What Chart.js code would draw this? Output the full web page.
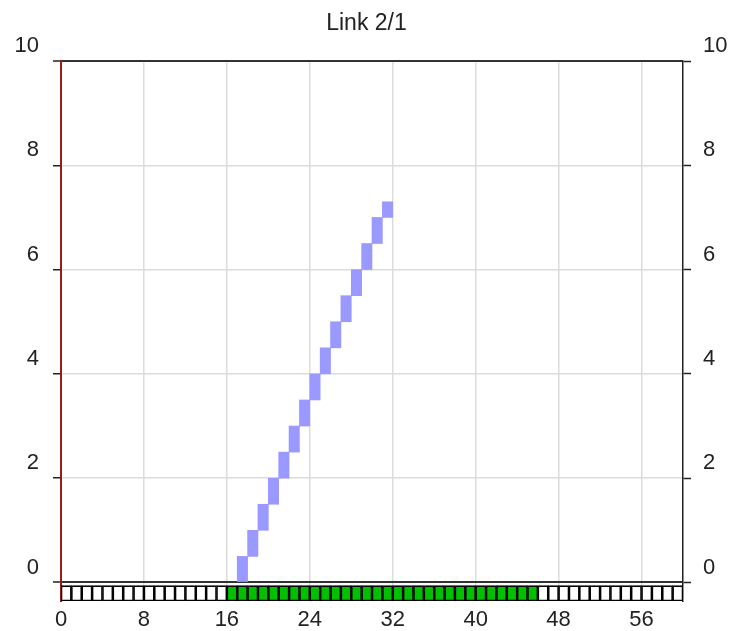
<!DOCTYPE html>
<html>
<head>
<meta charset="utf-8">
<script src="https://cdn.jsdelivr.net/npm/chart.js@4/dist/chart.umd.min.js"></script>
<style>
  body { margin: 0; background: #fff; }
</style>
</head>
<body>
<canvas id="myChart" width="733" height="631"></canvas>
<script>
// rising steps: slot where each one sits and the range it covers
let stepSlots = [17, 18, 19, 20, 21, 22, 23, 24, 25, 26, 27, 28, 29, 30, 31];
let stepFrom  = [0, 0.5, 1, 1.5, 2, 2.5, 3, 3.5, 4, 4.5, 5, 5.5, 6, 6.5, 7];
let stepTo    = [0.5, 1, 1.5, 2, 2.5, 3, 3.5, 4, 4.5, 5, 5.5, 6, 6.5, 7, 7.3];

// slot strip under the axis, 1 = slot in use
let stripActive = [
    0, 0, 0, 0, 0, 0, 0, 0, 0, 0, 0, 0, 0, 0, 0, 0,
    1, 1, 1, 1, 1, 1, 1, 1, 1, 1, 1, 1, 1, 1, 1, 1,
    1, 1, 1, 1, 1, 1, 1, 1, 1, 1, 1, 1, 1, 1,
    0, 0, 0, 0, 0, 0, 0, 0, 0, 0, 0, 0, 0, 0
];

let xTicks = [0, 8, 16, 24, 32, 40, 48, 56];
let yTicks = [0, 2, 4, 6, 8, 10];

const yMin = -0.355;
const stripTop = -0.06;
const font = { family: "'Liberation Sans', Arial, sans-serif", size: 22 };

let useTicks = list => scale => { scale.ticks = list.map(v => ({ value: v })); };
let isEdge = c => c.tick && (c.tick.value === 0 || c.tick.value === 10);

let ctx = document.getElementById('myChart').getContext('2d');
let myChart = new Chart(ctx, {
    type: 'bar',
    data: {
        datasets: [{
            label: 'Link 2/1',
            data: stepSlots.map((s, i) => ({ x: s + 0.5, y: [stepFrom[i], stepTo[i]] })),
            backgroundColor: '#9999ff',
            borderWidth: 0,
            barPercentage: 1,
            categoryPercentage: 1,
            grouped: false
        }, {
            label: 'slots',
            data: stripActive.map((a, i) => ({ x: i + 0.5, y: [yMin, stripTop] })),
            backgroundColor: stripActive.map(a => a ? '#00c000' : '#ffffff'),
            borderColor: '#000',
            borderWidth: 1.6,
            borderSkipped: false,
            barPercentage: 1,
            categoryPercentage: 1,
            grouped: false
        }]
    },
    options: {
        responsive: false,
        animation: false,
        plugins: {
            legend: { display: false },
            tooltip: { enabled: false },
            title: {
                display: true,
                text: 'Link 2/1',
                color: '#222',
                font: { family: font.family, size: 23, weight: 'normal' },
                padding: { top: 10, bottom: 23.4 }
            }
        },
        scales: {
            x: {
                type: 'linear',
                min: 0,
                max: 60,
                offset: false,
                afterBuildTicks: useTicks(xTicks),
                afterFit: s => { s.height = 30; },
                grid: { color: '#dcdcdc', lineWidth: 1.5, drawTicks: false, offset: false },
                border: { display: false },
                ticks: { padding: 6, color: '#222', font: font }
            },
            y: {
                position: 'left',
                min: yMin,
                max: 10,
                afterBuildTicks: useTicks(yTicks),
                afterFit: s => { s.width = 61; },
                grid: {
                    color: c => isEdge(c) ? '#333' : '#dcdcdc',
                    lineWidth: c => isEdge(c) ? 2 : 1.5,
                    tickColor: '#222',
                    tickWidth: 1.5,
                    tickLength: 8
                },
                border: { color: '#9b1b1b', width: 2 },
                ticks: { padding: 14, labelOffset: -15, color: '#222', font: font }
            },
            y2: {
                position: 'right',
                min: yMin,
                max: 10,
                afterBuildTicks: useTicks(yTicks),
                afterFit: s => { s.width = 50; },
                grid: { drawOnChartArea: false, tickColor: '#222', tickWidth: 1.5, tickLength: 8 },
                border: { color: '#222', width: 1.5 },
                ticks: { padding: 12, labelOffset: -15, color: '#222', font: font }
            }
        }
    }
});
</script>
</body>
</html>
